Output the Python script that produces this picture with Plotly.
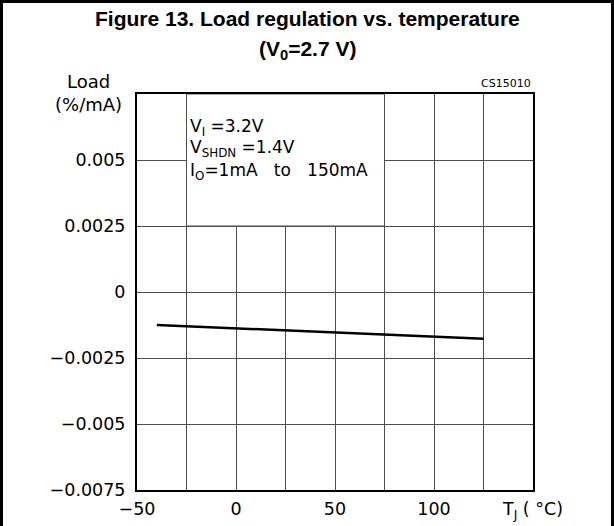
import plotly.graph_objects as go

# Data
temperature_c = [-40, 0, 50, 100, 125]
load_reg_pct_per_ma = [-0.00125, -0.00138, -0.00153, -0.00168, -0.00177]

x_tick_vals = [-50, 0, 50, 100, 150]
x_tick_text = ["\u221250", "0", "50", "100", "T<sub>J</sub> ( \u00b0C)"]
y_tick_vals = [-0.0075, -0.005, -0.0025, 0, 0.0025, 0.005]
y_tick_text = ["\u22120.0075", "\u22120.005", "\u22120.0025", "0", "0.0025", "0.005"]

cond_lines = ["V<sub>I</sub> =3.2V", "V<sub>SHDN</sub> =1.4V", "I<sub>O</sub>=1mA   to   150mA"]

FONT = "DejaVu Sans"

fig = go.Figure()
fig.add_trace(go.Scatter(x=temperature_c, y=load_reg_pct_per_ma, mode="lines",
                         line=dict(color="black", width=2.5), showlegend=False,
                         hoverinfo="skip"))

L, R, T, B = 137, 81, 94, 36
W, H = 614, 526
pw, ph = W - L - R, H - T - B

def px2paper_x(px):
    return (px - L) / pw

def px2paper_y(py):
    return (H - B - py) / ph

axis_common = dict(showline=True, linecolor="black", linewidth=2, mirror=True,
                   showgrid=True, gridcolor="#4d4d4d", gridwidth=1, zeroline=False,
                   ticks="", tickfont=dict(family=FONT, size=17.5, color="black"))

fig.update_xaxes(range=[-50, 150], tickvals=x_tick_vals, ticktext=x_tick_text,
                 ticklabelstandoff=2, **axis_common)
fig.update_yaxes(range=[-0.0075, 0.0075], tickvals=y_tick_vals, ticktext=y_tick_text,
                 ticklabelstandoff=6, **axis_common)

# vertical gridlines at the 25-step positions
fig.update_xaxes(minor=dict(tickvals=[-25, 25, 75, 125], showgrid=True,
                            gridcolor="#4d4d4d", gridwidth=1, ticks=""))

shapes = []
# White condition box (covers grid)
shapes.append(dict(type="rect", xref="x", yref="y", x0=-25, x1=75, y0=0.0025, y1=0.0075,
                   fillcolor="white", line=dict(color="#4d4d4d", width=1), layer="between"))

annotations = []
annotations.append(dict(text="<b>Figure 13. Load regulation vs. temperature</b>",
                        xref="paper", yref="paper", x=px2paper_x(W / 2), y=px2paper_y(19),
                        xanchor="center", yanchor="middle", showarrow=False,
                        font=dict(family="Liberation Sans", size=21, color="black")))
annotations.append(dict(text="<b>(V<sub>0</sub>=2.7 V)</b>",
                        xref="paper", yref="paper", x=px2paper_x(W / 2), y=px2paper_y(50),
                        xanchor="center", yanchor="middle", showarrow=False,
                        font=dict(family="Liberation Sans", size=21, color="black")))
annotations.append(dict(text="Load<br>(%/mA)", xref="paper", yref="paper",
                        x=px2paper_x(88), y=px2paper_y(93), xanchor="center", yanchor="middle",
                        align="center", showarrow=False,
                        font=dict(family=FONT, size=18, color="black")))
annotations.append(dict(text="CS15010", xref="paper", yref="paper",
                        x=1.0, y=px2paper_y(84), xanchor="right", yanchor="middle",
                        showarrow=False, font=dict(family=FONT, size=11, color="black")))
for i, t in enumerate(cond_lines):
    annotations.append(dict(text=t, xref="paper", yref="paper",
                            x=px2paper_x(188), y=px2paper_y(127 + 22 * i),
                            xanchor="left", yanchor="middle", showarrow=False,
                            font=dict(family=FONT, size=17, color="black")))

fig.update_layout(width=W, height=H, margin=dict(l=L, r=R, t=T, b=B, autoexpand=False),
                  plot_bgcolor="white", paper_bgcolor="white",
                  shapes=shapes, annotations=annotations)

frame_js = (
    "document.body.style.margin='0';document.body.style.overflow='hidden';"
    "var fr=document.createElement('div');"
    "fr.style.cssText='position:absolute;left:0;top:0;width:614px;height:526px;"
    "box-sizing:border-box;border-top:3px solid black;border-left:3px solid black;"
    "border-right:3px solid black;pointer-events:none;z-index:10;';"
    "document.body.appendChild(fr);"
)
fig.write_html("out.html", config={"displayModeBar": False}, post_script=frame_js)
